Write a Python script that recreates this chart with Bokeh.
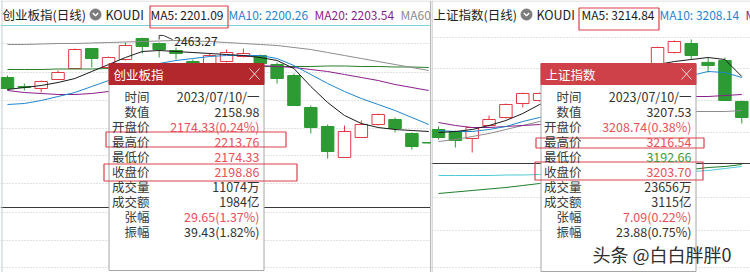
from bokeh.plotting import figure
from bokeh.models import Range1d, Span, Label, ColumnDataSource
from bokeh.layouts import row
from bokeh.embed import file_html
from bokeh.resources import INLINE

FONT = "Noto Sans CJK SC"

# ---------------- 创业板指 (left panel) ----------------
cyb_open = [2347.73, 2321.72, 2315.94, 2341.95, 2373.74, 2431.54, 2376.63, 2399.75, 2460.44, 2445.99,
            2425.76, 2393.97, 2379.52, 2393.97, 2408.42, 2411.31, 2385.30, 2353.51, 2261.03, 2206.12,
            2116.53, 2174.33, 2211.90, 2226.35, 2185.89, 2159.88]
cyb_high = [2353.51, 2330.39, 2339.06, 2367.96, 2431.54, 2431.54, 2408.42, 2448.88, 2463.27, 2448.88,
            2434.43, 2399.75, 2417.09, 2428.65, 2431.54, 2414.20, 2391.08, 2359.29, 2266.81, 2211.90,
            2209.01, 2223.46, 2243.69, 2232.13, 2188.78, 2161.30]
cyb_low = [2310.16, 2310.16, 2304.38, 2341.95, 2373.74, 2376.63, 2373.74, 2396.86, 2417.09, 2405.53,
           2399.75, 2353.51, 2373.74, 2391.08, 2405.53, 2379.52, 2330.39, 2266.81, 2185.89, 2113.64,
           2116.53, 2174.33, 2209.01, 2188.78, 2139.65, 2156.99]
cyb_close = [2315.94, 2318.83, 2336.17, 2362.18, 2428.65, 2402.64, 2405.53, 2440.21, 2437.32, 2428.65,
             2417.09, 2367.96, 2411.31, 2419.98, 2417.09, 2388.19, 2344.84, 2266.81, 2203.23, 2133.86,
             2191.67, 2211.90, 2240.80, 2200.34, 2148.32, 2158.40]
cyb_ma5 = [2313.05, 2318.83, 2324.61, 2333.28, 2344.84, 2365.07, 2385.30, 2405.53, 2422.87, 2425.76,
           2422.87, 2419.98, 2417.09, 2414.20, 2411.31, 2405.53, 2396.86, 2373.74, 2321.72, 2275.48,
           2237.91, 2214.79, 2203.23, 2197.45, 2194.56, 2191.67]
cyb_ma10 = [2269.70, 2272.59, 2281.26, 2292.82, 2304.38, 2321.72, 2339.06, 2356.40, 2373.74, 2388.19,
            2396.86, 2402.64, 2408.42, 2411.31, 2411.31, 2411.31, 2402.64, 2382.41, 2356.40, 2330.39,
            2307.27, 2287.04, 2269.70, 2252.36, 2232.13, 2211.90]
cyb_ma20 = [2310.16, 2304.38, 2301.49, 2298.60, 2298.60, 2301.49, 2307.27, 2315.94, 2327.50, 2339.06,
            2350.62, 2362.18, 2370.85, 2376.63, 2382.41, 2382.41, 2379.52, 2376.63, 2370.85, 2365.07,
            2356.40, 2347.73, 2339.06, 2327.50, 2318.83, 2310.16]
cyb_ma60 = [2443.10, 2443.10, 2444.55, 2445.99, 2445.99, 2447.44, 2448.88, 2450.33, 2451.77, 2453.22,
            2454.66, 2453.22, 2451.77, 2448.88, 2445.99, 2443.10, 2440.21, 2434.43, 2428.65, 2419.98,
            2411.31, 2402.64, 2393.97, 2385.30, 2376.63, 2367.96]
cyb_ma120 = [2370.85, 2370.85, 2370.85, 2372.30, 2372.30, 2372.30, 2373.74, 2373.74, 2373.74, 2373.74,
             2375.19, 2375.19, 2376.63, 2376.63, 2378.08, 2379.52, 2379.52, 2379.52, 2379.52, 2380.97,
             2380.97, 2379.52, 2379.52, 2378.08, 2378.08, 2376.63]
cyb_price_range = (1784.18, 2570.26)
cyb_peak = 2463.27
cyb_peak_idx = 8
cyb_ma_text = ["MA5: 2201.09", "MA10: 2200.26", "MA20: 2203.54", "MA60:"]
cyb_tip_values = ["2023/07/10/一", "2158.98", "2174.33(0.24%)", "2213.76", "2174.33",
                  "2198.86", "11074万", "1984亿", "29.65(1.37%)", "39.43(1.82%)"]

# ---------------- 上证指数 (right panel) ----------------
sh_open = [3102.06, 3098.88, 3087.75, 3108.42, 3121.14, 3143.40, 3148.17, 3151.35, 3167.25, 3156.12,
           3172.02, 3183.15, 3175.20, 3179.97, 3224.49, 3238.80, 3208.74, 3211.77, 3146.58]
sh_high = [3106.83, 3100.47, 3105.24, 3124.32, 3143.40, 3160.89, 3160.89, 3170.43, 3172.02, 3176.79,
           3187.92, 3189.51, 3195.87, 3234.03, 3243.57, 3245.16, 3216.54, 3216.54, 3148.17]
sh_low = [3086.16, 3073.44, 3065.49, 3106.83, 3119.55, 3137.04, 3146.58, 3148.17, 3152.94, 3152.94,
          3167.25, 3170.43, 3172.02, 3176.79, 3222.90, 3213.36, 3192.66, 3148.17, 3111.60]
sh_close = [3089.34, 3084.57, 3105.24, 3117.96, 3141.81, 3159.30, 3159.30, 3167.25, 3157.71, 3173.61,
            3183.15, 3176.79, 3192.69, 3232.44, 3241.98, 3219.72, 3203.70, 3148.17, 3121.14]
sh_ma5 = [3097.29, 3098.88, 3102.06, 3108.42, 3116.37, 3127.50, 3141.81, 3151.35, 3160.89, 3170.43,
          3179.97, 3189.51, 3197.46, 3205.41, 3210.18, 3213.36, 3216.54, 3213.36, 3186.33]
sh_ma10 = [3100.47, 3098.88, 3098.88, 3102.06, 3106.83, 3114.78, 3121.14, 3129.09, 3138.63, 3148.17,
           3157.71, 3167.25, 3173.61, 3179.97, 3184.74, 3187.92, 3194.28, 3192.69, 3184.74]
sh_ma20 = [3113.19, 3108.42, 3105.24, 3105.24, 3106.83, 3108.42, 3110.01, 3116.37, 3122.73, 3129.09,
           3135.45, 3141.81, 3148.17, 3151.35, 3152.94, 3154.53, 3154.53, 3156.12, 3157.71]
sh_ma60 = [3082.98, 3086.16, 3090.93, 3095.70, 3102.06, 3108.42, 3114.78, 3119.55, 3122.73, 3124.32,
           3125.91, 3127.50, 3129.09, 3129.09, 3130.68, 3130.68, 3130.68, 3130.68, 3132.27]
sh_amt_ma5 = [2910, 2910, 2910, 2910, 2925, 2925, 2940, 2940, 2955, 2955,
              2970, 2970, 2985, 3000, 3015, 3030, 3060, 3120, 3180]
sh_amt_ma10 = [2370, 2415, 2460, 2505, 2550, 2610, 2670, 2715, 2760, 2805,
               2850, 2910, 2955, 3000, 3045, 3090, 3150, 3180, 3240]
sh_price_range = (2874.69, 3307.17)
sh_amt_range = (0, 8160)
sh_ma_text = ["MA5: 3214.84", "MA10: 3208.14", "MA20:", ""]
sh_tip_values = ["2023/07/10/一", "3207.53", "3208.74(0.38%)", "3216.54", "3192.66",
                 "3203.70", "23656万", "3115亿", "7.09(0.22%)", "23.88(0.75%)"]

tip_labels = ["时间", "数值", "开盘价", "最高价", "最低价", "收盘价", "成交量", "成交额", "张幅", "振幅"]

RED = "#e23a44"
GREEN = "#2e9a34"
VAL_RED = "#e8505a"
VAL_GREEN = "#3f9a3f"
TXT = "#333333"
BOX = "#d9404c"
MA_COL = ["#1a1a1a", "#1f86cc", "#8a1f8a", "#8c8c8c", "#2a7d2a"]
STEP = 16.85


def panel(W, title, ma_text, o, h, l, c, mas, prange, tip_vals, tip_colors, head_col,
          grid_ys, sep_y, tip_left, tip_bottom, boxes, ma_box):
    p = figure(width=W, height=272, x_range=Range1d(0, W), y_range=Range1d(272, 0),
               output_backend="svg", toolbar_location=None, min_border=0,
               x_axis_location=None, y_axis_location=None,
               background_fill_color="white", border_fill_color="white",
               outline_line_color=None)
    p.xgrid.visible = False
    p.ygrid.visible = False
    a = -7.0 / STEP
    p.extra_x_ranges = {"idx": Range1d(a, a + W / STEP)}
    p.extra_y_ranges = {"price": Range1d(*prange)}

    for gy in grid_ys:
        p.add_layout(Span(location=gy, dimension="width", line_color="#c4c4c4",
                          line_dash="1 2", line_width=1, level="underlay"))
    p.add_layout(Span(location=sep_y, dimension="width", line_color="#3a3a3a",
                      line_width=1, level="underlay"))
    p.add_layout(Span(location=0.5, dimension="width", line_color="#d6d6d6", level="underlay"))

    idx = list(range(len(o)))
    up = [cc >= oo for oo, cc in zip(o, c)]
    src = ColumnDataSource(dict(
        x=idx, h=h, l=l,
        top=[max(oo, cc) for oo, cc in zip(o, c)],
        bot=[min(oo, cc) for oo, cc in zip(o, c)],
        lc=[RED if u else GREEN for u in up],
        fc=["white" if u else GREEN for u in up]))
    p.segment(x0="x", y0="h", x1="x", y1="l", line_color="lc", line_width=1,
              source=src, x_range_name="idx", y_range_name="price")
    p.vbar(x="x", width=0.74, top="top", bottom="bot", fill_color="fc", line_color="lc",
           line_width=1, source=src, x_range_name="idx", y_range_name="price")

    for vals, col in mas:
        p.line(list(range(len(vals))), vals, line_color=col, line_width=1,
               x_range_name="idx", y_range_name="price")
    return p


def decorate(p, W, title, ma_text, tip_vals, tip_colors, head_col, head_title,
             tip_left, tip_bottom, boxes, ma_box):
    # title bar
    p.add_layout(Label(x=2, y=14, text=title, text_font=FONT, text_font_size="12.5px",
                       text_color="#222222", text_baseline="middle"))
    p.scatter(x=[95], y=[14], size=11, fill_color="#7b7b7b", line_color="#7b7b7b")
    p.line(x=[92.3, 95, 97.7], y=[12.5, 15.2, 12.5], line_color="white", line_width=1.6)
    p.add_layout(Label(x=105, y=14, text="KOUDI", text_font=FONT, text_font_size="12.5px",
                       text_color="#222222", text_baseline="middle"))
    xs = [150, 228, 314, 400]
    cols = ["#1a1a1a", "#1f86cc", "#8a1f8a", "#8c8c8c"]
    for xx, t, cc in zip(xs, ma_text, cols):
        if t:
            p.add_layout(Label(x=xx, y=14, text=t, text_font=FONT, text_font_size="12px",
                               text_color=cc, text_baseline="middle"))

    # tooltip
    tl, tr = tip_left, tip_left + 155
    p.quad(left=[tl + 0.5], right=[tr + 0.5], top=[63], bottom=[tip_bottom],
           fill_color="white", line_color="#a6a6a6", line_width=1)
    p.quad(left=[tl + 0.5], right=[tr + 0.5], top=[63], bottom=[84],
           fill_color=head_col, line_color=head_col)
    p.add_layout(Label(x=tl + 5, y=73.5, text=head_title, text_font=FONT,
                       text_font_size="12.5px", text_color="white", text_baseline="middle"))
    p.segment(x0=[tr - 14, tr - 14], y0=[68, 79], x1=[tr - 4, tr - 4], y1=[79, 68],
              line_color="#f3d6d6", line_width=1)
    row_y = [96, 111, 126, 141, 156, 171, 186, 201, 216, 231]
    for ry, lab, v, vc in zip(row_y, tip_labels, tip_vals, tip_colors):
        p.add_layout(Label(x=tl + 41, y=ry, text=lab, text_font=FONT, text_font_size="12.5px",
                           text_color="#3a3a3a", text_align="right", text_baseline="middle"))
        p.add_layout(Label(x=tl + 151, y=ry, text=v, text_font=FONT, text_font_size="12.5px",
                           text_color=vc, text_align="right", text_baseline="middle"))

    # red highlight boxes
    for (bl, bt, br, bb) in boxes + [ma_box]:
        p.quad(left=[bl + 0.5], right=[br + 0.5], top=[bt + 0.5], bottom=[bb + 0.5],
               fill_color=None, line_color=BOX, line_width=1.2)


# ---------------- left ----------------
WL = 431
left = panel(WL, "创业板指(日线)", cyb_ma_text, cyb_open, cyb_high, cyb_low, cyb_close,
             [(cyb_ma120, MA_COL[4]), (cyb_ma60, MA_COL[3]), (cyb_ma20, MA_COL[2]),
              (cyb_ma10, MA_COL[1]), (cyb_ma5, MA_COL[0])],
             cyb_price_range, None, None, None,
             [43, 72, 100, 128, 155, 183, 212, 240, 267], 207, None, None, None, None)
left.add_layout(Span(location=25, dimension="width", line_color="#7dd2dc", line_width=1.2,
                     level="underlay"))
left.add_layout(Span(location=1.5, dimension="height", line_color="#c3cad8", level="underlay"))
left.add_layout(Span(location=430, dimension="height", line_color="#b8b8b8", level="underlay"))
# peak marker
left.line(x=[cyb_peak_idx + 1.0, cyb_peak_idx + 1.0, cyb_peak_idx + 1.25, cyb_peak_idx + 1.8],
          y=[cyb_peak - 6, cyb_peak + 6, cyb_peak + 6, cyb_peak - 6],
          line_color="#333333", line_width=1, x_range_name="idx", y_range_name="price")
left.add_layout(Label(x=cyb_peak_idx + 1.9, y=cyb_peak - 12, x_range_name="idx",
                      y_range_name="price", text=f"{cyb_peak:.2f}", text_font=FONT,
                      text_font_size="12px", text_color="#222222", text_baseline="middle"))
tipc_l = [TXT, TXT, VAL_RED, VAL_RED, VAL_RED, VAL_RED, TXT, TXT, VAL_RED, TXT]
decorate(left, WL, "创业板指(日线)", cyb_ma_text, cyb_tip_values, tipc_l, "#b3282d", "创业板指",
         108, 270, [(105, 131, 285, 146), (103, 163, 296, 180)], (149, 5, 227, 27))

# ---------------- right ----------------
WR = 319
right = panel(WR, "上证指数(日线)", sh_ma_text, sh_open, sh_high, sh_low, sh_close,
              [(sh_ma60, MA_COL[3]), (sh_ma20, MA_COL[2]), (sh_ma10, MA_COL[1]),
               (sh_ma5, MA_COL[0])],
              sh_price_range, None, None, None,
              [37, 68, 100, 132, 197, 230, 267], 163, None, None, None, None)
right.extra_y_ranges["amt"] = Range1d(*sh_amt_range)
right.line(list(range(len(sh_amt_ma5))), sh_amt_ma5, line_color="#4ecad6", line_width=1,
           x_range_name="idx", y_range_name="amt")
right.line(list(range(len(sh_amt_ma10))), sh_amt_ma10, line_color="#1e7d2a", line_width=1,
           x_range_name="idx", y_range_name="amt")
right.add_layout(Span(location=0.5, dimension="height", line_color="#b8b8b8", level="underlay"))
tipc_r = [TXT, TXT, VAL_RED, VAL_RED, VAL_GREEN, VAL_RED, TXT, TXT, VAL_RED, TXT]
decorate(right, WR, "上证指数(日线)", sh_ma_text, sh_tip_values, tipc_r, "#cf4148", "上证指数",
         109, 271, [(104, 137, 272, 147), (103, 161, 271, 179)], (147, 7, 227, 29))
right.add_layout(Label(x=161, y=253, text="头条 @白白胖胖0", text_font=FONT,
                       text_font_size="18px", text_color="#2e2e2e", text_baseline="middle"))

layout = row(left, right, spacing=0)
open("out.html", "w").write(file_html(layout, INLINE))
